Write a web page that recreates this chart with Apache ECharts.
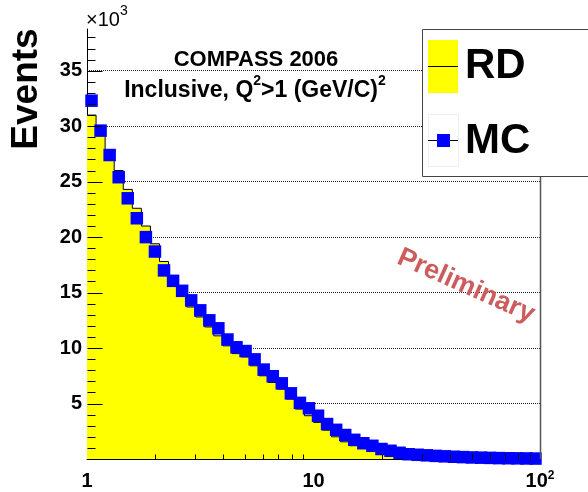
<!DOCTYPE html>
<html>
<head>
<meta charset="utf-8">
<script src="https://cdn.jsdelivr.net/npm/echarts@6/dist/echarts.min.js"></script>
<style>
  html, body { margin: 0; padding: 0; background: #fff; }
  #chart { width: 588px; height: 492px; }
</style>
</head>
<body>
<div id="chart"></div>
<script>
// Histogram binning: log-spaced bins between 1 and 100
const X_MIN = 1;
const X_MAX = 100;
const BINS_PER_DECADE = 25;
const Y_MAX = 38760;

// Events per bin, real data (RD)
const rdEvents = [
  31000, 29700, 27500, 26000, 24300, 22600, 21000, 19400, 17800, 16000,
  14900, 13700, 12800, 11900, 11100, 10200, 9500, 9200, 8400, 7500,
  6900, 6300, 5400, 4500, 3900, 3300, 2600, 2000, 1550, 1200,
  950, 700, 500, 330, 180, 0, 0, 0, 0, 0,
  0, 0, 0, 0, 0, 0, 0, 0, 0, 0
];

// Events per bin, Monte Carlo (MC)
const mcEvents = [
  32300, 29600, 27400, 25400, 23500, 21700, 20000, 18700, 17000, 16060,
  15160, 14300, 13400, 12500, 11780, 10770, 10070, 9730, 8980, 8060,
  7460, 6820, 5920, 5060, 4570, 3900, 3150, 2630, 2160, 1730,
  1420, 1190, 900, 740, 560, 430, 380, 330, 280, 240,
  200, 170, 140, 120, 100, 80, 70, 60, 50, 40
];

// Axis ticks
const xMinorTicks = [2, 3, 4, 5, 6, 7, 8, 9, 20, 30, 40, 50, 60, 70, 80, 90];
const xTickLabels = { 1: '1', 10: '10', 100: '{b|10}{s|2}' };
const yMajorTicks = [5000, 10000, 15000, 20000, 25000, 30000, 35000];
const yMinorTicks = [];
for (let v = 1000; v < Y_MAX; v += 1000) {
  if (v % 5000 !== 0) yMinorTicks.push(v);
}

const FONT = '"Liberation Sans", Arial, Helvetica, sans-serif';

// Bin edges and geometric bin centres on the log axis
const nBins = rdEvents.length;
const binEdge = k => Math.pow(10, k / BINS_PER_DECADE) * X_MIN;
const binCentre = k => Math.pow(10, (k + 0.5) / BINS_PER_DECADE) * X_MIN;

// RD as a stepped outline: one point per bin at its lower edge, closed at the upper edge
const rdStep = rdEvents.map((v, k) => [binEdge(k), v]);
rdStep.push([binEdge(nBins), rdEvents[nBins - 1]]);

const mcPoints = mcEvents.map((v, k) => [binCentre(k), v]);

// Short tick marks drawn through the axis scales
function tickSeries(points, horizontal, len) {
  return {
    type: 'custom',
    silent: true,
    clip: false,
    z: 6,
    data: points,
    renderItem(params, api) {
      const p = api.coord([api.value(0), api.value(1)]);
      const x = Math.round(p[0]) + 0.5;
      const y = Math.round(p[1]) + 0.5;
      const shape = horizontal
        ? { x1: x, y1: y, x2: x + len, y2: y }
        : { x1: x, y1: y, x2: x, y2: y - len };
      return { type: 'line', shape, style: { stroke: '#000', lineWidth: 1 } };
    }
  };
}

// A centred line of text with raised superscript pieces
const measureCtx = document.createElement('canvas').getContext('2d');
function textWithSuperscripts(parts, cx, cy, mainFont, supFont, rise) {
  const widths = parts.map(([t, sup]) => {
    measureCtx.font = sup ? supFont : mainFont;
    return measureCtx.measureText(t).width;
  });
  const total = widths.reduce((a, b) => a + b, 0);
  let x = cx - total / 2;
  return parts.map(([t, sup], i) => {
    const el = {
      type: 'text', z: 10, x: x, y: sup ? cy - rise : cy,
      style: { text: t, font: sup ? supFont : mainFont, fill: '#000', align: 'left', verticalAlign: 'middle' }
    };
    x += widths[i];
    return el;
  });
}

const subtitle = textWithSuperscripts(
  [['Inclusive, Q', false], ['2', true], ['>1 (GeV/C)', false], ['2', true]],
  255, 91, 'bold 23px ' + FONT, 'bold 14px ' + FONT, 9.5
);

const chart = echarts.init(document.getElementById('chart'), null, { renderer: 'canvas' });

chart.setOption({
  animation: false,
  backgroundColor: '#fff',
  grid: { left: 87, right: 48, top: 29, bottom: 33, show: false },
  xAxis: {
    type: 'log',
    logBase: 10,
    min: X_MIN,
    max: X_MAX,
    axisLine: { lineStyle: { color: '#000', width: 1 } },
    axisTick: { show: true, inside: true, length: 10, lineStyle: { color: '#000' } },
    axisLabel: {
      margin: 11,
      color: '#000',
      fontFamily: FONT,
      fontSize: 20,
      fontWeight: 'bold',
      lineHeight: 22,
      formatter: v => xTickLabels[Math.round(v)] || '',
      rich: {
        b: { fontFamily: FONT, fontSize: 20, fontWeight: 'bold', color: '#000', lineHeight: 22 },
        s: { fontFamily: FONT, fontSize: 12, fontWeight: 'bold', color: '#000', lineHeight: 12, verticalAlign: 'top' }
      }
    },
    splitLine: { show: false }
  },
  yAxis: {
    type: 'value',
    min: 0,
    max: Y_MAX,
    interval: 5000,
    axisLine: { show: true, lineStyle: { color: '#000', width: 1 } },
    axisTick: { show: false },
    axisLabel: {
      margin: 5,
      color: '#000',
      fontFamily: FONT,
      fontSize: 20,
      fontWeight: 'bold',
      formatter: v => (v > 0 && v % 5000 === 0) ? String(v / 1000) : ''
    },
    splitLine: {
      show: true,
      showMinLine: false,
      showMaxLine: false,
      lineStyle: { color: '#222', width: 1, type: 'dotted' }
    }
  },
  series: [
    {
      name: 'RD',
      type: 'line',
      step: 'end',
      data: rdStep,
      showSymbol: false,
      symbol: 'none',
      z: 2,
      lineStyle: { color: '#000', width: 1 },
      areaStyle: { color: '#ffff00', opacity: 1 }
    },
    {
      name: 'MC',
      type: 'scatter',
      data: mcPoints,
      symbol: 'rect',
      symbolSize: 12.5,
      z: 4,
      itemStyle: { color: '#0000ff', opacity: 1 }
    },
    tickSeries(xMinorTicks.map(v => [v, 0]), false, 5),
    tickSeries(yMinorTicks.map(v => [X_MIN, v]), true, 8),
    tickSeries(yMajorTicks.map(v => [X_MIN, v]), true, 15)
  ],
  graphic: [
    // right edge of the frame
    { type: 'line', z: 10, shape: { x1: 540.5, y1: 29, x2: 540.5, y2: 459 }, style: { stroke: '#555', lineWidth: 1.5 } },
    // exponent of the y axis
    { type: 'text', z: 10, x: 86, y: 20, style: { text: '×10', font: '20px ' + FONT, fill: '#000', align: 'left', verticalAlign: 'middle' } },
    { type: 'text', z: 10, x: 120, y: 11, style: { text: '3', font: '14px ' + FONT, fill: '#000', align: 'left', verticalAlign: 'middle' } },
    // y axis title
    { type: 'text', z: 10, x: 27, y: 89, rotation: Math.PI / 2, style: { text: 'Events', font: 'bold 37px ' + FONT, fill: '#000', align: 'center', verticalAlign: 'middle' } },
    // headline
    { type: 'text', z: 10, x: 256, y: 60, style: { text: 'COMPASS 2006', font: 'bold 22px ' + FONT, fill: '#000', align: 'center', verticalAlign: 'middle' } },
    ...subtitle,
    // watermark
    { type: 'text', z: 10, x: 466, y: 286, rotation: -24 * Math.PI / 180, style: { text: 'Preliminary', font: 'bold 27px ' + FONT, fill: '#cd5c5c', align: 'center', verticalAlign: 'middle' } },
    // legend box
    { type: 'rect', z: 20, shape: { x: 422.5, y: 29.5, width: 200, height: 147 }, style: { fill: '#fff', stroke: '#444', lineWidth: 1 } },
    { type: 'rect', z: 21, shape: { x: 428, y: 40, width: 30, height: 53 }, style: { fill: '#ffff00' } },
    { type: 'line', z: 22, shape: { x1: 428, y1: 66.5, x2: 458, y2: 66.5 }, style: { stroke: '#000', lineWidth: 1 } },
    { type: 'text', z: 22, x: 465, y: 66, style: { text: 'RD', font: 'bold 42px ' + FONT, fill: '#000', align: 'left', verticalAlign: 'middle' } },
    { type: 'rect', z: 21, shape: { x: 428.5, y: 114.5, width: 30, height: 52 }, style: { fill: 'none', stroke: '#eee', lineWidth: 1 } },
    { type: 'line', z: 22, shape: { x1: 428, y1: 140.5, x2: 458, y2: 140.5 }, style: { stroke: '#000', lineWidth: 1 } },
    { type: 'rect', z: 23, shape: { x: 437, y: 134, width: 13, height: 13 }, style: { fill: '#0000ff' } },
    { type: 'text', z: 22, x: 465, y: 141, style: { text: 'MC', font: 'bold 42px ' + FONT, fill: '#000', align: 'left', verticalAlign: 'middle' } }
  ]
});
</script>
</body>
</html>
